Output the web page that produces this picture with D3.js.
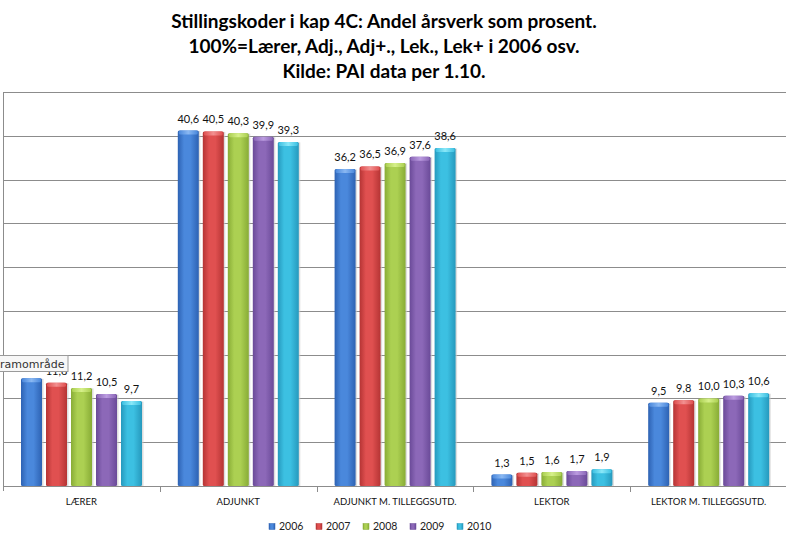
<!DOCTYPE html>
<html>
<head>
<meta charset="utf-8">
<script src="https://cdn.jsdelivr.net/npm/d3@7"></script>
<style>
  html, body { margin: 0; padding: 0; background: #fff; }
  svg { display: block; }
</style>
</head>
<body>
<script>
// ---- data ----
const categories = ["LÆRER", "ADJUNKT", "ADJUNKT M. TILLEGGSUTD.", "LEKTOR", "LEKTOR M. TILLEGGSUTD."];
const years = ["2006", "2007", "2008", "2009", "2010"];
const values2006 = [12.3, 40.6, 36.2, 1.3, 9.5];
const values2007 = [11.8, 40.5, 36.5, 1.5, 9.8];
const values2008 = [11.2, 40.3, 36.9, 1.6, 10.0];
const values2009 = [10.5, 39.9, 37.6, 1.7, 10.3];
const values2010 = [9.7, 39.3, 38.6, 1.9, 10.6];
const yTicks = [0, 5, 10, 15, 20, 25, 30, 35, 40, 45];
const titleLines = [
  "Stillingskoder i kap 4C: Andel årsverk som prosent.",
  "100%=Lærer, Adj., Adj+., Lek., Lek+ i 2006 osv.",
  "Kilde: PAI data per 1.10."
];
const seriesValues = [values2006, values2007, values2008, values2009, values2010];

// colours: [edge, mid, light cap]
const palette = [
  ["#2d62b3", "#4a88dc", "#8ab8f2"],
  ["#b53434", "#e05050", "#f29090"],
  ["#88ac36", "#acd052", "#d6f08a"],
  ["#6a4a98", "#8c68b8", "#bb9ce0"],
  ["#2699bd", "#3cc0e2", "#8ae8f8"]
];

const W = 786, H = 539;
const svg = d3.select("body").append("svg").attr("width", W).attr("height", H);
const defs = svg.append("defs");

palette.forEach((c, i) => {
  const g = defs.append("linearGradient").attr("id", "body" + i)
    .attr("x1", "0").attr("x2", "1").attr("y1", "0").attr("y2", "0");
  g.append("stop").attr("offset", "0").attr("stop-color", c[0]);
  g.append("stop").attr("offset", "0.3").attr("stop-color", c[1]);
  g.append("stop").attr("offset", "0.6").attr("stop-color", c[1]);
  g.append("stop").attr("offset", "1").attr("stop-color", c[0]);
  const t = defs.append("linearGradient").attr("id", "cap" + i)
    .attr("x1", "0").attr("x2", "1").attr("y1", "0").attr("y2", "0");
  t.append("stop").attr("offset", "0").attr("stop-color", c[1]);
  t.append("stop").attr("offset", "0.5").attr("stop-color", c[2]);
  t.append("stop").attr("offset", "1").attr("stop-color", c[1]);
});

// scales
const x0 = d3.scaleBand().domain(categories).range([3, 787]).paddingInner(0).paddingOuter(0);
const x1 = d3.scaleBand().domain(years).range([18, 139]).paddingInner(0.16).paddingOuter(0);
const y = d3.scaleLinear().domain([0, 45]).range([486, 92]);

// gridlines
svg.append("g").selectAll("line").data(yTicks.filter(d => d > 0)).join("line")
  .attr("x1", 3).attr("x2", W).attr("y1", d => Math.round(y(d)) + 0.5).attr("y2", d => Math.round(y(d)) + 0.5)
  .attr("stroke", "#8c8c8c").attr("stroke-width", 1);

// y axis line (no labels visible in reference)
svg.append("line").attr("x1", 3.5).attr("x2", 3.5).attr("y1", Math.round(y(45))).attr("y2", y(0) + 5)
  .attr("stroke", "#8c8c8c");

// title
const title = svg.append("g");
titleLines.forEach((t, i) => {
  title.append("text").attr("x", 384).attr("y", 28 + i * 25)
    .attr("text-anchor", "middle")
    .style("font-family", "Lato, 'Open Sans', sans-serif")
    .style("font-weight", "bold").style("font-size", "19px").style("fill", "#000")
    .text(t);
});

// bars
const groups = svg.append("g").selectAll("g").data(categories).join("g")
  .attr("transform", d => `translate(${x0(d)},0)`);

groups.each(function(cat, ci) {
  const g = d3.select(this);
  years.forEach((yr, si) => {
    const v = seriesValues[si][ci];
    const bx = x1(yr), bw = x1.bandwidth();
    const top = y(v), h = y(0) - top;
    // shadow
    g.append("rect").attr("x", bx + 0.5).attr("y", top + 0.5).attr("width", bw + 1).attr("height", h)
      .attr("fill", "#c8c8c8").attr("opacity", 0.6);
    g.append("rect").attr("x", bx).attr("y", top).attr("width", bw).attr("height", h)
      .attr("fill", `url(#body${si})`).attr("rx", 1.5);
    g.append("rect").attr("x", bx + 1).attr("y", top).attr("width", bw - 2).attr("height", Math.min(4, h))
      .attr("fill", `url(#cap${si})`).attr("rx", 1.5);
    // value label
    g.append("text").attr("x", bx + bw / 2).attr("y", top - 8)
      .attr("text-anchor", "middle")
      .style("font-family", "Lato, 'Open Sans', sans-serif").style("font-size", "11px").style("fill", "#111")
      .text(d3.format(".1f")(v).replace(".", ","));
  });
});

// x axis
const xAxis = svg.append("g").attr("transform", `translate(0,${y(0)})`);
xAxis.append("line").attr("x1", 3).attr("x2", W).attr("y1", 0.5).attr("y2", 0.5).attr("stroke", "#8c8c8c");
xAxis.selectAll("line.tick").data(categories.slice(1)).join("line").attr("class", "tick")
  .attr("x1", d => Math.round(x0(d)) + 0.5).attr("x2", d => Math.round(x0(d)) + 0.5)
  .attr("y1", 0).attr("y2", 6).attr("stroke", "#8c8c8c");
xAxis.selectAll("text").data(categories).join("text")
  .attr("x", d => x0(d) + x0.bandwidth() / 2).attr("y", 19)
  .attr("text-anchor", "middle")
  .style("font-family", "Lato, 'Open Sans', sans-serif").style("font-size", "9.5px").style("fill", "#111")
  .text(d => d);

// legend
const legend = svg.append("g").attr("transform", "translate(269,0)");
years.forEach((yr, i) => {
  const lg = legend.append("g").attr("transform", `translate(${i * 47},0)`);
  lg.append("rect").attr("x", 0).attr("y", 523.5).attr("width", 6).attr("height", 6)
    .attr("fill", `url(#body${i})`).attr("stroke", palette[i][0]).attr("stroke-width", 0.5);
  lg.append("text").attr("x", 10).attr("y", 530)
    .style("font-family", "Lato, 'Open Sans', sans-serif").style("font-size", "10.5px").style("fill", "#222")
    .text(yr);
});

// tooltip overlay visible in the reference screenshot
const tip = svg.append("g");
tip.append("rect").attr("x", -2).attr("y", 355.5).attr("width", 70).attr("height", 16)
  .attr("fill", "#f7f7f7").attr("stroke", "#9a9a9a");
tip.append("text").attr("x", 0).attr("y", 368)
  .style("font-family", "'DejaVu Sans', sans-serif").style("font-size", "11px").style("fill", "#333")
  .text("ramområde");
</script>
</body>
</html>
